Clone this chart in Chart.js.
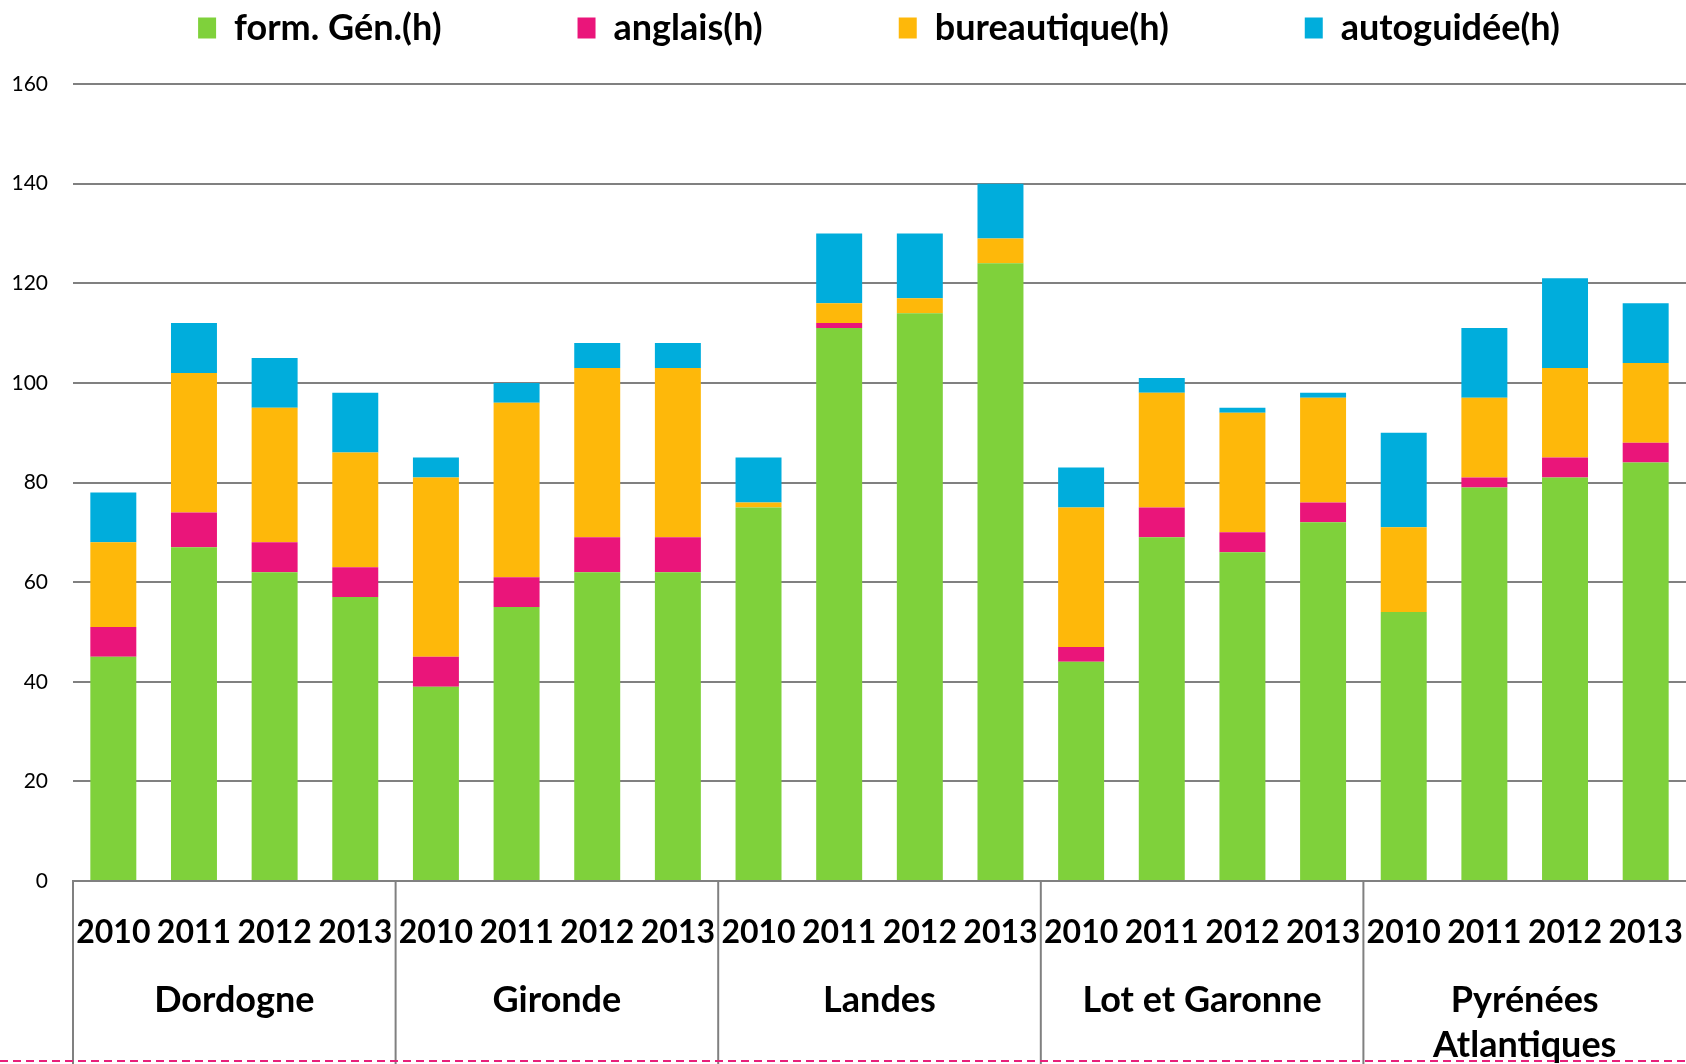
<!DOCTYPE html>
<html>
<head>
<meta charset="utf-8">
<script src="https://cdn.jsdelivr.net/npm/chart.js@4.4.1/dist/chart.umd.min.js"></script>
<style>
  html, body { margin: 0; padding: 0; background: #fff; }
  canvas { display: block; }
</style>
</head>
<body>
<canvas id="heures-chart" width="1686" height="1064"></canvas>
<script>
const departements = ['Dordogne', 'Gironde', 'Landes', 'Lot et Garonne', ['Pyrénées', 'Atlantiques']];
const annees = ['2010', '2011', '2012', '2013'];

// heures par departement, 2010 -> 2013
const formGen     = [45, 67, 62, 57,  39, 55, 62, 62,  75, 111, 114, 124,  44, 69, 66, 72,  54, 79, 81, 84];
const anglais     = [ 6,  7,  6,  6,   6,  6,  7,  7,   0,   1,   0,   0,   3,  6,  4,  4,   0,  2,  4,  4];
const bureautique = [17, 28, 27, 23,  36, 35, 34, 34,   1,   4,   3,   5,  28, 23, 24, 21,  17, 16, 18, 16];
const autoguidee  = [10, 10, 10, 12,   4,  4,  5,  5,   9,  14,  13,  11,   8,  3,  1,  1,  19, 14, 18, 12];

const yTicks = [0, 20, 40, 60, 80, 100, 120, 140, 160];

const labels = [];
departements.forEach(() => annees.forEach(a => labels.push(a)));

const gris = '#808080';

// separateurs + noms de departements sous l'axe
const groupesPlugin = {
    id: 'groupes',
    afterInit(chart) {
        const legend = chart.legend;
        const fit = legend.fit;
        legend.fit = function () {
            fit.call(this);
            this.height = 84;
        };
    },
    afterLayout(chart) {
        chart.legend.top = -126;
        chart.legend.left += 36;
        chart.legend.right += 36;
    },
    afterDraw(chart) {
        const ctx = chart.ctx;
        const x = chart.scales.x;
        const bottom = chart.chartArea.bottom;
        const n = annees.length;

        ctx.save();
        ctx.strokeStyle = gris;
        ctx.lineWidth = 2;
        for (let g = 0; g < departements.length; g++) {
            const px = g === 0 ? x.left : (x.getPixelForValue(g * n - 1) + x.getPixelForValue(g * n)) / 2;
            ctx.beginPath();
            ctx.moveTo(px, bottom);
            ctx.lineTo(px, chart.height);
            ctx.stroke();
        }

        ctx.fillStyle = '#000';
        ctx.font = 'bold 36px Lato';
        ctx.textAlign = 'center';
        ctx.textBaseline = 'middle';
        departements.forEach((d, g) => {
            const cx = (x.getPixelForValue(g * n) + x.getPixelForValue(g * n + n - 1)) / 2;
            const lignes = Array.isArray(d) ? d : [d];
            lignes.forEach((l, i) => ctx.fillText(l, cx, 1000 + i * 45));
        });

        // pointilles rose en bas de page
        ctx.strokeStyle = '#e8207a';
        ctx.lineWidth = 2;
        ctx.setLineDash([8, 5]);
        ctx.beginPath();
        ctx.moveTo(0, 1061);
        ctx.lineTo(chart.width, 1061);
        ctx.stroke();
        ctx.restore();
    }
};

Chart.defaults.font.family = 'Lato';
Chart.defaults.color = '#000';

const ctx = document.getElementById('heures-chart').getContext('2d');
new Chart(ctx, {
    type: 'bar',
    data: {
        labels: labels,
        datasets: [
            { label: 'form. Gén.(h)', data: formGen, backgroundColor: '#7fd13b' },
            { label: 'anglais(h)', data: anglais, backgroundColor: '#ea157a' },
            { label: 'bureautique(h)', data: bureautique, backgroundColor: '#feb80a' },
            { label: 'autoguidée(h)', data: autoguidee, backgroundColor: '#00addc' }
        ]
    },
    options: {
        responsive: false,
        animation: false,
        layout: { padding: 0 },
        datasets: {
            bar: { categoryPercentage: 1, barPercentage: 0.57 }
        },
        plugins: {
            legend: {
                position: 'top',
                labels: {
                    boxWidth: 18,
                    boxHeight: 21,
                    padding: 136,
                    font: { size: 36, weight: 'bold' }
                }
            },
            tooltip: { enabled: false }
        },
        scales: {
            x: {
                stacked: true,
                grid: { display: false, drawTicks: false },
                border: { display: true, color: gris, width: 2 },
                ticks: {
                    font: { size: 32, weight: 'bold' },
                    padding: 32,
                    maxRotation: 0,
                    autoSkip: false
                },
                afterFit(scale) {
                    scale.height = 183;
                    scale.paddingLeft = 0;
                    scale.paddingRight = 0;
                }
            },
            y: {
                stacked: true,
                min: 0,
                max: 160,
                afterBuildTicks(scale) { scale.ticks = yTicks.map(v => ({ value: v })); },
                grid: { color: gris, lineWidth: 2, drawTicks: false },
                border: { display: false },
                ticks: {
                    font: { size: 21 },
                    padding: 25
                },
                afterFit(scale) { scale.width = 73; }
            }
        }
    },
    plugins: [groupesPlugin]
});
</script>
</body>
</html>
